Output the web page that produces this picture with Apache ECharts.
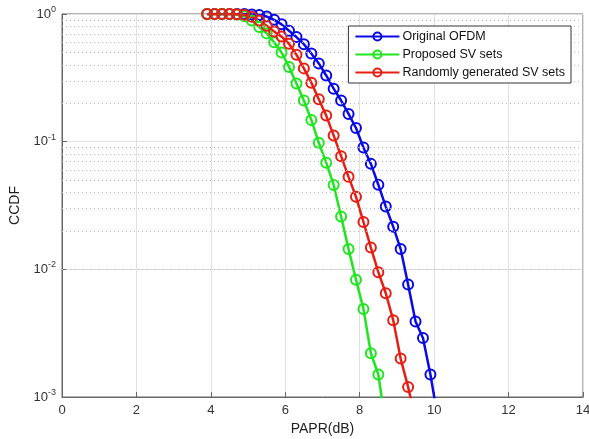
<!DOCTYPE html>
<html>
<head>
<meta charset="utf-8">
<script src="https://cdn.jsdelivr.net/npm/echarts@6/dist/echarts.min.js"></script>
<style>
html,body{margin:0;padding:0;background:#fff;}
#chart{width:589px;height:439px;}
</style>
</head>
<body>
<div id="chart"></div>
<script>
// PAPR (dB) sample positions
const paprOriginal = [3.9,4.1,4.3,4.5,4.7,4.9,5.1,5.3,5.5,5.7,5.9,6.1,6.3,6.5,6.7,6.9,7.1,7.3,7.5,7.7,7.9,8.1,8.3,8.5,8.7,8.9,9.1,9.3,9.5,9.7,9.9,10.1];
const ccdfOriginal = [1,1,1,1,1,0.998,0.993,0.98,0.955,0.9,0.83,0.74,0.66,0.58,0.49,0.41,0.33,0.26,0.21,0.165,0.128,0.09,0.067,0.046,0.031,0.0216,0.0144,0.0076,0.0039,0.0029,0.0015,0.00068];

const paprProposed = [3.9,4.1,4.3,4.5,4.7,4.9,5.1,5.3,5.5,5.7,5.9,6.1,6.3,6.5,6.7,6.9,7.1,7.3,7.5,7.7,7.9,8.1,8.3,8.5,8.7];
const ccdfProposed = [1,1,1,0.998,0.99,0.96,0.89,0.79,0.705,0.6,0.5,0.385,0.285,0.21,0.148,0.098,0.0685,0.0458,0.0259,0.0144,0.0083,0.0049,0.0022,0.0015,0.0006];

const paprRandom = [3.9,4.1,4.3,4.5,4.7,4.9,5.1,5.3,5.5,5.7,5.9,6.1,6.3,6.5,6.7,6.9,7.1,7.3,7.5,7.7,7.9,8.1,8.3,8.5,8.7,8.9,9.1,9.3,9.5];
const ccdfRandom = [1,1,1,1,0.997,0.985,0.95,0.89,0.81,0.73,0.665,0.585,0.48,0.375,0.29,0.215,0.16,0.112,0.077,0.053,0.037,0.0235,0.0148,0.0095,0.0065,0.004,0.002,0.0012,0.00066];

const seriesNames = ['Original OFDM','Proposed SV sets','Randomly generated SV sets'];
const xTicks = [0,2,4,6,8,10,12,14];
const yMinorGrid = [0.9,0.8,0.7,0.6,0.5,0.4,0.3,0.2,0.09,0.08,0.07,0.06,0.05,0.04,0.03,0.02,0.009,0.008,0.007,0.006,0.005,0.004,0.003,0.002];

const colors = ['#0a0ae6','#1ee61e','#e61e14'];
const FONT = 'Liberation Sans, Arial, sans-serif';

function pairs(xs, ys){ return xs.map((x,i)=>[x, ys[i]]); }

function mkSeries(name, data, color){
  return {
    name: name,
    type: 'line',
    data: data,
    clip: true,
    symbol: 'circle',
    symbolSize: 10,
    showAllSymbol: true,
    lineStyle: {color: color, width: 2.5},
    itemStyle: {color: 'rgba(255,255,255,0)', borderColor: color, borderWidth: 2},
    emphasis: {disabled: true},
    z: 3
  };
}

const chart = echarts.init(document.getElementById('chart'), null, {renderer: 'canvas'});
chart.setOption({
  animation: false,
  backgroundColor: '#ffffff',
  textStyle: {fontFamily: FONT},
  grid: {left: 62, top: 14, right: 6, bottom: 42, containLabel: false, outerBoundsMode: 'none', show: true, borderColor: '#666', borderWidth: 1, backgroundColor: 'transparent'},
  legend: {
    data: seriesNames,
    orient: 'vertical',
    right: 18,
    top: 26,
    itemWidth: 44,
    itemHeight: 10,
    itemGap: 5,
    padding: [4, 6, 4, 6],
    backgroundColor: '#fff',
    borderColor: '#333',
    borderWidth: 1,
    textStyle: {fontFamily: FONT, fontSize: 12.5, color: '#111', padding: [0,0,0,-2]},
    z: 10
  },
  xAxis: {
    type: 'value',
    min: xTicks[0],
    max: xTicks[xTicks.length-1],
    interval: 2,
    name: 'PAPR(dB)',
    nameLocation: 'middle',
    nameGap: 24,
    nameTextStyle: {fontFamily: FONT, fontSize: 14, color: '#222'},
    axisLine: {lineStyle: {color: '#666', width: 1}},
    axisTick: {inside: true, length: 5, lineStyle: {color: '#666'}},
    axisLabel: {fontFamily: FONT, fontSize: 13, color: '#333', margin: 7},
    splitLine: {show: true, lineStyle: {color: '#e0e0e0', width: 1}}
  },
  yAxis: {
    type: 'log',
    logBase: 10,
    min: 0.001,
    max: 1,
    name: 'CCDF',
    nameLocation: 'middle',
    nameGap: 33,
    nameTextStyle: {fontFamily: FONT, fontSize: 14, color: '#222'},
    axisLine: {show: true, lineStyle: {color: '#666', width: 1}},
    axisTick: {inside: true, length: 5, lineStyle: {color: '#666'}},
    axisLabel: {
      fontFamily: FONT, fontSize: 13, color: '#333', margin: 6,
      formatter: function(v){ const e = Math.round(Math.log10(v)); return '{b|10}{s|' + e + '}'; },
      rich: {
        b: {fontFamily: FONT, fontSize: 13, color: '#333'},
        s: {fontFamily: FONT, fontSize: 9, color: '#333', padding: [0,0,9,0]}
      }
    },
    splitLine: {show: true, lineStyle: {color: '#e0e0e0', width: 1}}
  },
  series: [
    {
      name: 'minorGrid',
      type: 'line',
      data: [],
      silent: true,
      z: 1,
      markLine: {
        silent: true,
        symbol: ['none','none'],
        label: {show: false},
        animation: false,
        lineStyle: {type: [1, 3], color: '#b8b8b8', width: 1},
        emphasis: {disabled: true},
        data: yMinorGrid.map(v => ({yAxis: v}))
      }
    },
    mkSeries(seriesNames[0], pairs(paprOriginal, ccdfOriginal), colors[0]),
    mkSeries(seriesNames[1], pairs(paprProposed, ccdfProposed), colors[1]),
    mkSeries(seriesNames[2], pairs(paprRandom, ccdfRandom), colors[2])
  ]
});
</script>
</body>
</html>
